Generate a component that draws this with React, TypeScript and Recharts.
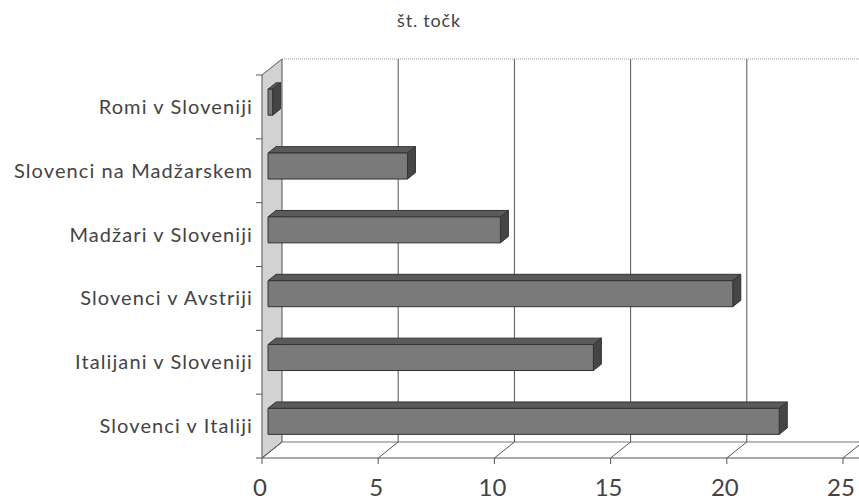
import { Bar, BarChart, CartesianGrid, XAxis, YAxis } from 'recharts';

const categories = [
  'Romi v Sloveniji',
  'Slovenci na Madžarskem',
  'Madžari v Sloveniji',
  'Slovenci v Avstriji',
  'Italijani v Sloveniji',
  'Slovenci v Italiji',
];
const points = [0.2, 6, 10, 20, 14, 22];
const xTicks = [0, 5, 10, 15, 20, 25];
const title = 'št. točk';

const data = categories.map((name, i) => ({ name, value: points[i] }));

const W = 859;
const H = 502;
const TOP = 75;
const BOTTOM = 458;
const LEFT = 262;
const DEPTH_X = 20;
const DEPTH_Y = -16;
const BAND = (BOTTOM - TOP) / categories.length;
const FONT = 'Lato, "Open Sans", sans-serif';
const TEXT = '#444';

// 3D-looking bar: front face sits a bit inside the depth of the plot
const Bar3D = (props: any) => {
  const { x, y, width, height } = props;
  const fx = x + DEPTH_X * 0.3;
  const fy = y + DEPTH_Y * 0.3;
  const dx = DEPTH_X * 0.4;
  const dy = DEPTH_Y * 0.4;
  const w = Math.max(width, 0);
  return (
    <g stroke="#333" strokeWidth={1} strokeLinejoin="round">
      <polygon
        points={`${fx},${fy} ${fx + w},${fy} ${fx + w + dx},${fy + dy} ${fx + dx},${fy + dy}`}
        fill="#5a5a5a"
      />
      <polygon
        points={`${fx + w},${fy} ${fx + w + dx},${fy + dy} ${fx + w + dx},${fy + dy + height} ${fx + w},${fy + height}`}
        fill="#454545"
      />
      <rect x={fx} y={fy} width={w} height={height} fill="#7a7a7a" />
    </g>
  );
};

const GridLine = (props: any) => {
  const { x1, index } = props;
  return (
    <g key={`g-${index}`}>
      {x1 > LEFT + 1 && (
        <line x1={x1 + DEPTH_X} y1={TOP + DEPTH_Y} x2={x1 + DEPTH_X} y2={BOTTOM + DEPTH_Y} stroke="#555" strokeWidth={1} />
      )}
      <line x1={x1} y1={BOTTOM} x2={x1 + DEPTH_X} y2={BOTTOM + DEPTH_Y} stroke="#555" strokeWidth={1} />
    </g>
  );
};

const XTick = (props: any) => {
  const { x, payload } = props;
  return (
    <g>
      <line x1={x} y1={BOTTOM} x2={x} y2={BOTTOM + 6} stroke="#555" />
      <text x={x - 2} y={496} textAnchor="middle" fontFamily={FONT} fontSize={24} fill={TEXT}>
        {payload.value}
      </text>
    </g>
  );
};

const YTick = (props: any) => {
  const { y, payload, index } = props;
  return (
    <g>
      <line x1={LEFT - 6} y1={y + BAND / 2} x2={LEFT} y2={y + BAND / 2} stroke="#555" />
      {index === 0 && <line x1={LEFT - 6} y1={y - BAND / 2} x2={LEFT} y2={y - BAND / 2} stroke="#555" />}
      <text
        x={253}
        y={y + 2}
        textAnchor="end"
        dominantBaseline="middle"
        fontFamily={FONT}
        fontSize={20}
        letterSpacing={1.1}
        fill={TEXT}
      >
        {payload.value}
      </text>
    </g>
  );
};

const Frame = () => (
  <svg width={W} height={H} style={{ position: 'absolute', left: 0, top: 0 }}>
    <text x={429} y={27} textAnchor="middle" fontFamily={FONT} fontSize={18} letterSpacing={0.8} fill={TEXT}>
      {title}
    </text>
    <line x1={LEFT + DEPTH_X} y1={TOP + DEPTH_Y} x2={W} y2={TOP + DEPTH_Y} stroke="#999" strokeDasharray="1 1" />
    <polygon
      points={`${LEFT},${TOP} ${LEFT + DEPTH_X},${TOP + DEPTH_Y} ${LEFT + DEPTH_X},${BOTTOM + DEPTH_Y} ${LEFT},${BOTTOM}`}
      fill="#d2d2d2"
      stroke="#555"
    />
    <line x1={LEFT} y1={BOTTOM} x2={W} y2={BOTTOM} stroke="#555" />
    <line x1={LEFT + DEPTH_X} y1={BOTTOM + DEPTH_Y} x2={W} y2={BOTTOM + DEPTH_Y} stroke="#777" />
  </svg>
);

export default function App() {
  return (
    <div style={{ position: 'fixed', left: 0, top: 0, width: W, height: H, background: '#fff' }}>
      <Frame />
      <div style={{ position: 'absolute', left: 0, top: 0 }}>
        <BarChart
          width={W}
          height={H}
          data={data}
          layout="vertical"
          barSize={26}
          margin={{ top: TOP, right: 16, left: 8, bottom: 0 }}
        >
          <CartesianGrid horizontal={false} vertical={GridLine} />
          <XAxis
            type="number"
            domain={[0, 25]}
            ticks={xTicks}
            height={H - BOTTOM}
            axisLine={false}
            tickLine={false}
            tick={XTick}
            interval={0}
          />
          <YAxis
            type="category"
            dataKey="name"
            width={LEFT - 8}
            axisLine={false}
            tickLine={false}
            tick={YTick}
            interval={0}
          />
          <Bar dataKey="value" shape={Bar3D} isAnimationActive={false} />
        </BarChart>
      </div>
    </div>
  );
}
